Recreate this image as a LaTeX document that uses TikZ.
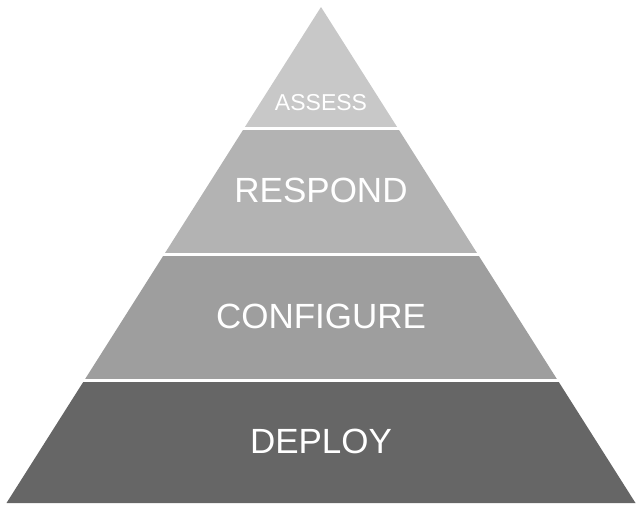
\documentclass[tikz,border=0pt]{standalone}
\usepackage{fontspec}
\setmainfont{Liberation Sans}
\definecolor{cA}{HTML}{C8C8C8}
\definecolor{cB}{HTML}{B3B3B3}
\definecolor{cC}{HTML}{9E9E9E}
\definecolor{cD}{HTML}{666666}
\tikzset{lbl/.style={text=white, inner sep=0pt, anchor=center}}
\begin{document}
\begin{tikzpicture}[x=1pt,y=-1pt]
\useasboundingbox (0,0) rectangle (640,506);
\begin{scope}
\clip (321,7) -- (635.5,503) -- (6.5,503) -- cycle;
\fill[cA] (0,0) rectangle (640,126.5);
\fill[cB] (0,129.5) rectangle (640,252.5);
\fill[cC] (0,255.5) rectangle (640,378.5);
\fill[cD] (0,381.5) rectangle (640,506);
\end{scope}
\node[lbl, font=\fontsize{23}{23}\selectfont] (assess) at (321,103) {ASSESS};
\node[lbl, font=\fontsize{35}{35}\selectfont] (respond) at (321,190) {RESPOND};
\node[lbl, font=\fontsize{35}{35}\selectfont] (configure) at (321,316) {CONFIGURE};
\node[lbl, font=\fontsize{35}{35}\selectfont] (deploy) at (321,441) {DEPLOY};
\end{tikzpicture}
\end{document}
